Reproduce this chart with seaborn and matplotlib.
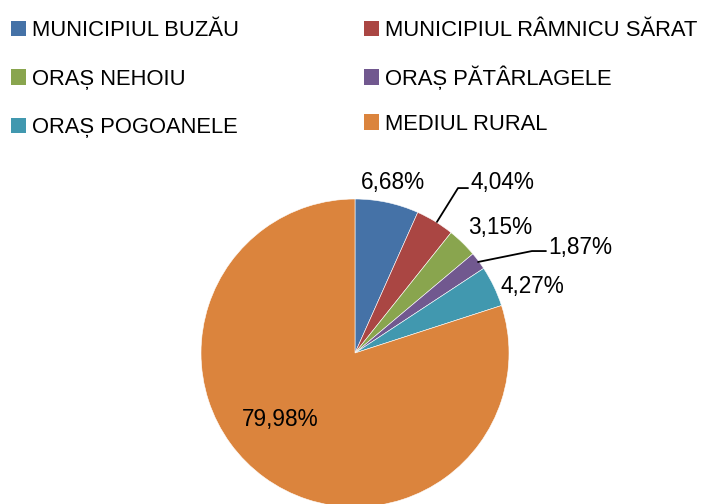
import matplotlib
matplotlib.use("Agg")
import matplotlib.pyplot as plt
import matplotlib.patches as mpatches
import seaborn as sns

categories = ["MUNICIPIUL BUZĂU", "MUNICIPIUL RÂMNICU SĂRAT", "ORAȘ NEHOIU",
              "ORAȘ PĂTÂRLAGELE", "ORAȘ POGOANELE", "MEDIUL RURAL"]
values = [6.68, 4.04, 3.15, 1.87, 4.27, 79.98]
labels = ["6,68%", "4,04%", "3,15%", "1,87%", "4,27%", "79,98%"]
colors = ["#4572A7", "#AA4643", "#89A54E", "#71588F", "#4198AF", "#DB843D"]

sns.set_theme(style="white")
plt.rcParams["font.family"] = ["Liberation Sans", "DejaVu Sans"]
plt.rcParams["text.color"] = "black"

W, H = 710, 504
fig = plt.figure(figsize=(W / 100, H / 100), dpi=100)
cx, cy, r = 355, 353, 154
ax = fig.add_axes([(cx - r) / W, (H - cy - r) / H, 2 * r / W, 2 * r / H])

palette = sns.color_palette(colors)
wedges, _ = ax.pie(values, colors=palette, startangle=90, counterclock=False,
                   radius=1, center=(0, 0),
                   wedgeprops=dict(edgecolor="white", linewidth=0.4))
ax.set_xlim(-1, 1)
ax.set_ylim(-1, 1)
ax.set_aspect("auto")
ax.axis("off")
for w in wedges:
    w.set_clip_on(False)

fs = 16.3
tk = dict(fontsize=fs, color="black", clip_on=False, va="center")
ax.text(0.247, 1.104, labels[0], ha="center", **tk)
ax.text(0.747, 1.110, labels[1], ha="left", **tk)
ax.plot([0.532, 0.669, 0.734], [0.851, 1.071, 1.071], color="black", lw=1.3, clip_on=False)
ax.text(0.942, 0.818, labels[2], ha="center", **tk)
ax.text(1.253, 0.688, labels[3], ha="left", **tk)
ax.plot([0.799, 1.149, 1.240], [0.591, 0.662, 0.662], color="black", lw=1.3, clip_on=False)
ax.text(1.149, 0.435, labels[4], ha="center", **tk)
ax.text(-0.487, -0.435, labels[5], ha="center", **tk)

handles = [mpatches.Patch(facecolor=c, edgecolor="none") for c in colors]
lfs = 15.8
lfs_px = lfs * 100 / 72
target_pitch = 48.5
target_row0 = 28.5      # from top, px
targets_x = [11, 364]   # handle left edge, px

def make_leg(idx, x0, ls):
    leg = fig.legend([handles[i] for i in idx], [categories[i] for i in idx],
                     loc="upper left", bbox_to_anchor=(x0 / W, 1 - 5 / H),
                     ncol=1, frameon=False, prop={"size": lfs},
                     labelcolor="black",
                     handlelength=0.68, handleheight=0.68, handletextpad=0.27,
                     labelspacing=ls, borderaxespad=0, borderpad=0)
    return leg

for col, idx in enumerate([[0, 2, 4], [1, 3, 5]]):
    ls = 1.0
    leg = make_leg(idx, targets_x[col], ls)
    fig.canvas.draw()
    t = leg.get_texts()
    y0 = t[0].get_window_extent().y0
    y1 = t[1].get_window_extent().y0
    pitch = y0 - y1
    leg.remove()
    ls += (target_pitch - pitch) / lfs_px
    leg = make_leg(idx, targets_x[col], ls)
    fig.canvas.draw()
    hb = leg.legend_handles[0].get_window_extent()
    hx = hb.x0
    hy = H - (hb.y0 + hb.y1) / 2
    dx = targets_x[col] - hx
    dy = target_row0 - hy
    leg.set_bbox_to_anchor(((targets_x[col] + dx) / W, 1 - (5 + dy) / H),
                           transform=fig.transFigure)

fig.savefig("out.png", dpi=100)
